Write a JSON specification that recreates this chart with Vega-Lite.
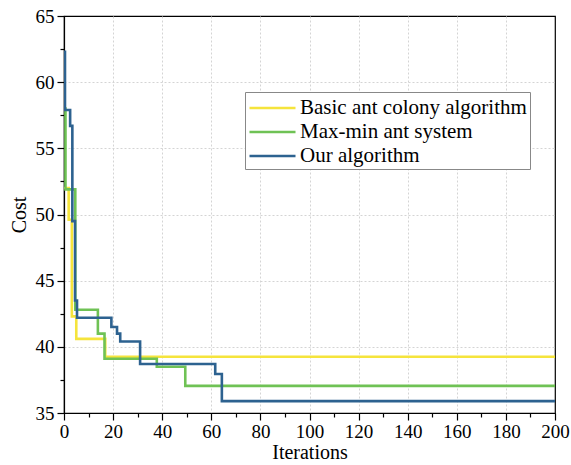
{
  "$schema": "https://vega.github.io/schema/vega-lite/v6.json",
  "width": 491,
  "height": 397,
  "autosize": {"type": "none"},
  "padding": {"left": 64, "top": 16, "right": 16, "bottom": 52},
  "background": "white",
  "config": {
    "view": {"stroke": "black", "strokeWidth": 1.2},
    "font": "Liberation Serif"
  },
  "data": {
    "values": [
      {"it": 0, "cost": 52.0, "alg": "Basic ant colony algorithm"},
      {"it": 1.9, "cost": 49.6, "alg": "Basic ant colony algorithm"},
      {"it": 3.2, "cost": 42.3, "alg": "Basic ant colony algorithm"},
      {"it": 5.0, "cost": 40.6, "alg": "Basic ant colony algorithm"},
      {"it": 16.8, "cost": 39.25, "alg": "Basic ant colony algorithm"},
      {"it": 200, "cost": 39.25, "alg": "Basic ant colony algorithm"},
      {"it": 0, "cost": 58.0, "alg": "Max-min ant system"},
      {"it": 0.6, "cost": 51.9, "alg": "Max-min ant system"},
      {"it": 4.6, "cost": 42.8, "alg": "Max-min ant system"},
      {"it": 13.8, "cost": 41.0, "alg": "Max-min ant system"},
      {"it": 16.5, "cost": 39.1, "alg": "Max-min ant system"},
      {"it": 37.8, "cost": 38.5, "alg": "Max-min ant system"},
      {"it": 49.4, "cost": 37.05, "alg": "Max-min ant system"},
      {"it": 200, "cost": 37.05, "alg": "Max-min ant system"},
      {"it": 0, "cost": 62.3, "alg": "Our algorithm"},
      {"it": 0.4, "cost": 57.9, "alg": "Our algorithm"},
      {"it": 2.5, "cost": 56.7, "alg": "Our algorithm"},
      {"it": 3.4, "cost": 49.5, "alg": "Our algorithm"},
      {"it": 4.5, "cost": 43.5, "alg": "Our algorithm"},
      {"it": 5.3, "cost": 42.2, "alg": "Our algorithm"},
      {"it": 19.3, "cost": 41.5, "alg": "Our algorithm"},
      {"it": 21.6, "cost": 41.0, "alg": "Our algorithm"},
      {"it": 22.9, "cost": 40.4, "alg": "Our algorithm"},
      {"it": 31, "cost": 38.7, "alg": "Our algorithm"},
      {"it": 61.6, "cost": 37.95, "alg": "Our algorithm"},
      {"it": 64.3, "cost": 35.9, "alg": "Our algorithm"},
      {"it": 200, "cost": 35.9, "alg": "Our algorithm"}
    ]
  },
  "mark": {"type": "line", "interpolate": "step-after", "strokeWidth": 2.6, "clip": true},
  "encoding": {
    "x": {
      "field": "it",
      "type": "quantitative",
      "scale": {"domain": [0, 200], "nice": false},
      "axis": {
        "title": "Iterations",
        "titleFont": "Liberation Serif",
        "titleFontSize": 20,
        "titleFontWeight": "normal",
        "titleColor": "black",
        "titlePadding": 1,
        "values": [0,10,20,30,40,50,60,70,80,90,100,110,120,130,140,150,160,170,180,190,200],
        "labelExpr": "datum.value % 20 === 0 ? datum.label : ''",
        "labelFont": "Liberation Serif",
        "labelFontSize": 19,
        "labelColor": "black",
        "labelPadding": 2,
        "labelFlush": false,
        "domainColor": "black",
        "domainWidth": 1.2,
        "tickColor": "black",
        "tickWidth": 1.2,
        "tickSize": {"condition": {"test": "datum.value % 20 === 0", "value": 7}, "value": 4},
        "grid": true,
        "gridColor": "#d4d4d4",
        "gridDash": [2, 2],
        "gridOpacity": {"condition": {"test": "datum.value % 20 === 0 && datum.value > 0 && datum.value < 200", "value": 1}, "value": 0}
      }
    },
    "y": {
      "field": "cost",
      "type": "quantitative",
      "scale": {"domain": [35, 65], "nice": false, "zero": false},
      "axis": {
        "title": "Cost",
        "titleFont": "Liberation Serif",
        "titleFontSize": 20,
        "titleFontWeight": "normal",
        "titleColor": "black",
        "titlePadding": 6,
        "values": [35,37.5,40,42.5,45,47.5,50,52.5,55,57.5,60,62.5,65],
        "labelExpr": "datum.value % 5 === 0 ? datum.label : ''",
        "labelFont": "Liberation Serif",
        "labelFontSize": 19,
        "labelColor": "black",
        "labelPadding": 3,
        "labelFlush": false,
        "domainColor": "black",
        "domainWidth": 1.2,
        "tickColor": "black",
        "tickWidth": 1.2,
        "tickSize": {"condition": {"test": "datum.value % 5 === 0", "value": 7}, "value": 4},
        "grid": true,
        "gridColor": "#d4d4d4",
        "gridDash": [2, 2],
        "gridOpacity": {"condition": {"test": "datum.value % 5 === 0 && datum.value > 35 && datum.value < 65", "value": 1}, "value": 0}
      }
    },
    "color": {
      "field": "alg",
      "type": "nominal",
      "scale": {
        "domain": ["Basic ant colony algorithm", "Max-min ant system", "Our algorithm"],
        "range": ["#f5e43c", "#6fc255", "#2d6290"]
      },
      "legend": {
        "title": null,
        "orient": "none",
        "legendX": 181,
        "legendY": 76,
        "symbolType": "M-1,0H3",
        "symbolSize": 529,
        "symbolStrokeWidth": 2.6,
        "labelFont": "Liberation Serif",
        "labelFontSize": 21,
        "labelLimit": 400,
        "labelColor": "black",
        "labelOffset": 26,
        "rowPadding": 1,
        "padding": 3,
        "strokeColor": "#888888",
        "fillColor": "white"
      }
    }
  }
}
